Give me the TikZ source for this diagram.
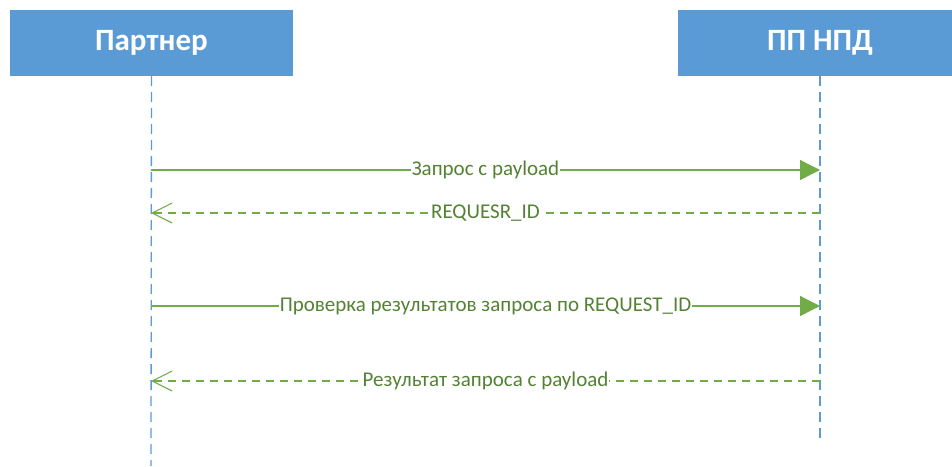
\documentclass[tikz,border=0pt]{standalone}
\usepackage{fontspec}
\setmainfont{Carlito}
\usetikzlibrary{arrows.meta}
\definecolor{hdrblue}{HTML}{5B9BD5}
\definecolor{arrgreen}{HTML}{70AD47}
\definecolor{txtgreen}{HTML}{548235}
\tikzset{
  header/.style={fill=hdrblue, draw=none, text=white, font=\bfseries\fontsize{31}{36}\selectfont, minimum height=66pt, inner sep=0pt},
  lifeline/.style={draw=hdrblue, line width=1.3pt, dash pattern=on 10pt off 6pt},
  callarrow/.style={draw=arrgreen, line width=1.3pt, -{Triangle[length=20pt,width=20pt]}},
  retarrow/.style={draw=arrgreen, line width=1.3pt, dash pattern=on 8pt off 6pt, -{Straight Barb[length=20pt,width=20pt,line width=1.1pt]}},
  msglabel/.style={fill=white, text=txtgreen, font=\fontsize{21}{25}\selectfont, inner sep=1pt}
}
\begin{document}
\begin{tikzpicture}[x=1pt,y=-1pt]
\useasboundingbox (0,0) rectangle (952,466);
\node[header, minimum width=283pt] (p) at (151.5,43) {Партнер};
\node[header, minimum width=284pt] (s) at (820,43) {ПП НПД};
\coordinate (pb) at (151,466);
\coordinate (sb) at (820,440);
\draw[lifeline] (p.south) -- (pb);
\draw[lifeline] (s.south) -- (sb);
\coordinate (a1) at (151,170); \coordinate (b1) at (820,170);
\coordinate (a2) at (151,213); \coordinate (b2) at (820,213);
\coordinate (a3) at (151,306); \coordinate (b3) at (820,306);
\coordinate (a4) at (151,381); \coordinate (b4) at (820,381);
\draw[callarrow] (a1) -- node[msglabel] (m1) {Запрос с payload} (b1);
\draw[retarrow] (b2) -- node[msglabel] (m2) {REQUESR\_ID} (a2);
\draw[callarrow] (a3) -- node[msglabel] (m3) {Проверка результатов запроса по REQUEST\_ID} (b3);
\draw[retarrow] (b4) -- node[msglabel] (m4) {Результат запроса с payload} (a4);
\end{tikzpicture}
\end{document}
